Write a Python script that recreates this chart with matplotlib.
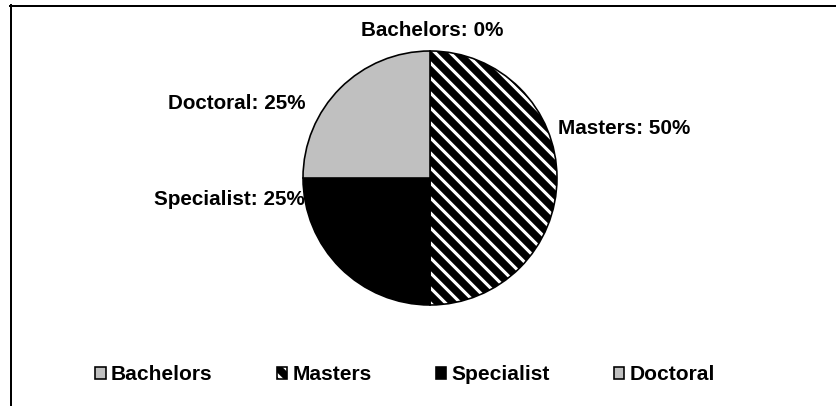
import numpy as np
import matplotlib.pyplot as plt
from matplotlib.lines import Line2D

# 데이터
categories = ["Bachelors", "Masters", "Specialist", "Doctoral"]
shares = [0, 50, 25, 25]

# 스타일
colors = ["#C0C0C0", "white", "black", "#C0C0C0"]
hatches = ["", "\\\\", "", ""]
# 라벨 위치 (파이 반지름 단위), 정렬
label_xy = [(0.02, 1.165), (1.01, 0.386), (-0.984, -0.173), (-0.984, 0.59)]
label_ha = ["center", "left", "right", "right"]

DPI = 90
W, H = 836, 406
plt.rcParams["font.family"] = ["Liberation Sans", "DejaVu Sans"]
plt.rcParams["font.weight"] = "bold"
plt.rcParams["hatch.linewidth"] = 6.0
plt.rcParams["hatch.color"] = "black"
fs = 16.5

fig = plt.figure(figsize=(W / DPI, H / DPI), dpi=DPI)

# 파이 중심 (430, 178) px, 반지름 127 px
R = 127
cx, cy = 430, 178
ax_w, ax_h = 4 * R, 300
ax = fig.add_axes([(cx - ax_w / 2) / W, 1 - (cy + ax_h / 2) / H, ax_w / W, ax_h / H])
ax.axis("off")

wedges, _ = ax.pie(
    shares,
    colors=colors,
    startangle=90,
    counterclock=False,
    radius=1,
    wedgeprops=dict(edgecolor="black", linewidth=1.3),
    normalize=True,
)
for w, h in zip(wedges, hatches):
    w.set_hatch(h)
ax.set_xlim(-2, 2)
ax.set_ylim(-ax_h / 2 / R, ax_h / 2 / R)

for name, val, (x, y), ha in zip(categories, shares, label_xy, label_ha):
    ax.text(x, y, "{}: {}%".format(name, val), ha=ha, va="center",
            fontsize=fs, fontweight="bold")

# 범례
fig.legend(
    wedges,
    categories,
    loc="center",
    bbox_to_anchor=(405 / W, 1 - 375 / H),
    ncol=4,
    frameon=False,
    fontsize=fs + 0.3,
    handlelength=0.5,
    handleheight=0.5,
    handletextpad=0.25,
    columnspacing=3.05,
)

# 테두리 (위, 왼쪽)
fig.add_artist(Line2D([10 / W, 1], [1 - 5.5 / H] * 2, color="black", lw=1.6,
                      transform=fig.transFigure))
fig.add_artist(Line2D([10.5 / W] * 2, [0, 1 - 5 / H], color="black", lw=1.6,
                      transform=fig.transFigure))

fig.savefig("out.png", dpi=DPI)
